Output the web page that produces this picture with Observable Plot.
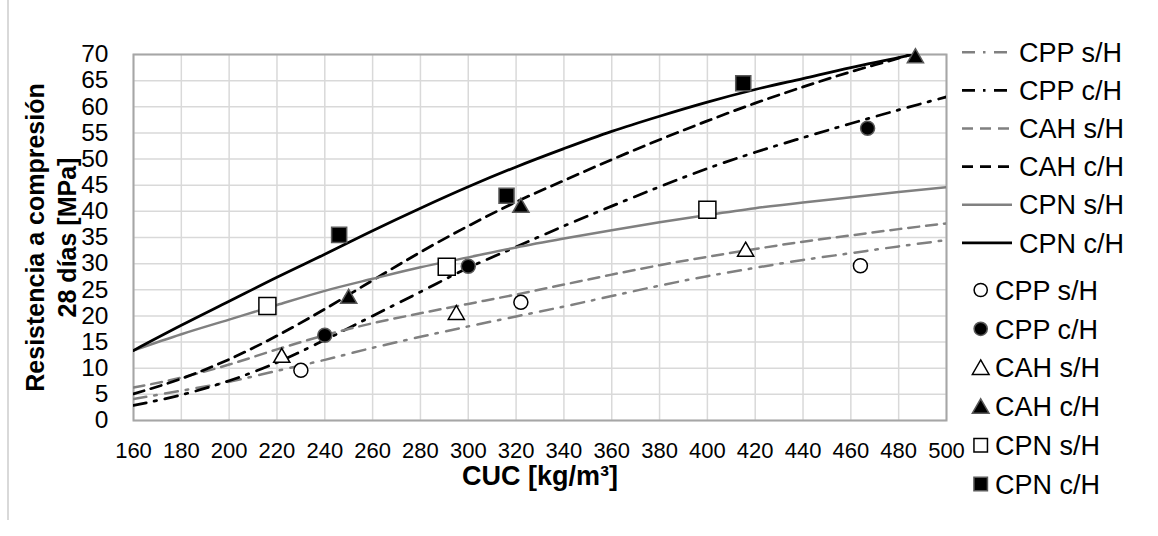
<!DOCTYPE html>
<html><head><meta charset="utf-8">
<script src="https://cdn.jsdelivr.net/npm/d3@7"></script>
<script src="https://cdn.jsdelivr.net/npm/@observablehq/plot@0.6"></script>
<style>
body{margin:0;background:#fff;}
#wrap{position:relative;width:1158px;height:536px;font-family:'Liberation Sans',Arial,sans-serif;}
#border{position:absolute;left:7px;top:0;width:1.5px;height:520px;background:#d9d9d9;}
#legend{position:absolute;left:0;top:0;pointer-events:none;}
</style></head><body>
<div id="wrap"></div>
<script>
// ---------- data ----------
const seriesNames = ["CPP s/H", "CPP c/H", "CAH s/H", "CAH c/H", "CPN s/H", "CPN c/H"];
const cucTicks = [160, 180, 200, 220, 240, 260, 280, 300, 320, 340, 360, 380, 400, 420, 440, 460, 480, 500];
const resTicks = [0, 5, 10, 15, 20, 25, 30, 35, 40, 45, 50, 55, 60, 65, 70];

// trend curves (read at regular CUC steps)
const curveCUC     = [160, 180, 200, 220, 240, 260, 280, 300, 320, 340, 360, 380, 400, 420, 440, 460, 480, 500];
const curveCUCtop  = [160, 180, 200, 220, 240, 260, 280, 300, 320, 340, 360, 380, 400, 420, 440, 460, 480, 486];
const curveCUCtop2 = [160, 180, 200, 220, 240, 260, 280, 300, 320, 340, 360, 380, 400, 420, 440, 460, 480, 485];
const fitCPPsH = [4.1, 5.7, 7.4, 9.5, 11.6, 13.9, 16.0, 18.0, 19.9, 21.8, 23.8, 25.8, 27.6, 29.2, 30.7, 32.0, 33.3, 34.5];
const fitCPPcH = [2.9, 4.9, 7.6, 11.1, 15.4, 20.0, 24.6, 29.2, 33.2, 37.2, 41.0, 44.7, 48.2, 51.3, 54.1, 56.8, 59.4, 61.9];
const fitCAHsH = [6.3, 8.2, 10.7, 13.6, 16.3, 18.6, 20.5, 22.3, 24.1, 26.0, 27.9, 29.7, 31.3, 32.8, 34.2, 35.4, 36.6, 37.7];
const fitCAHcH = [5.1, 8.0, 11.7, 16.2, 21.3, 26.8, 32.2, 37.2, 41.8, 45.9, 49.9, 53.7, 57.3, 60.7, 63.8, 66.7, 69.3, 70.0];
const fitCPNsH = [13.4, 16.5, 19.3, 22.1, 24.8, 27.1, 29.3, 31.2, 33.1, 34.8, 36.4, 37.9, 39.3, 40.6, 41.7, 42.7, 43.7, 44.6];
const fitCPNcH = [13.4, 18.2, 22.8, 27.4, 31.8, 36.3, 40.6, 44.7, 48.5, 52.0, 55.3, 58.2, 60.9, 63.3, 65.4, 67.5, 69.4, 70.0];

// measured points
const ptCUC_CPPsH = [230, 322, 464];  const ptRes_CPPsH = [9.6, 22.6, 29.6];
const ptCUC_CPPcH = [240, 300, 467];  const ptRes_CPPcH = [16.3, 29.5, 55.9];
const ptCUC_CAHsH = [222, 295, 416];  const ptRes_CAHsH = [12.4, 20.6, 32.7];
const ptCUC_CAHcH = [250, 322, 487];  const ptRes_CAHcH = [23.7, 41.1, 69.7];
const ptCUC_CPNsH = [216, 291, 400];  const ptRes_CPNsH = [21.9, 29.4, 40.3];
const ptCUC_CPNcH = [246, 316, 415];  const ptRes_CPNcH = [35.5, 43.0, 64.5];

// ---------- styles ----------
const gray = "#808080";
const dashDot = "13,8,2.5,8.5";
const dash = "11,7";
const lineStyle = {
  "CPP s/H": {stroke: gray, dash: dashDot, w: 2.5},
  "CPP c/H": {stroke: "black", dash: dashDot, w: 2.75},
  "CAH s/H": {stroke: gray, dash: dash, w: 2.5},
  "CAH c/H": {stroke: "black", dash: dash, w: 2.75},
  "CPN s/H": {stroke: gray, dash: null, w: 2.5},
  "CPN c/H": {stroke: "black", dash: null, w: 2.75}
};
const markerStyle = {
  "CPP s/H": {symbol: "circle", r: 7, fill: "white", stroke: "black"},
  "CPP c/H": {symbol: "circle", r: 7, fill: "black", stroke: "#595959"},
  "CAH s/H": {symbol: "triangle", r: 6, fill: "white", stroke: "black"},
  "CAH c/H": {symbol: "triangle", r: 6, fill: "black", stroke: "#595959"},
  "CPN s/H": {symbol: "square", r: 9.6, fill: "white", stroke: "black"},
  "CPN c/H": {symbol: "square", r: 8.5, fill: "black", stroke: "#595959"}
};

// ---------- tables ----------
const fits = [
  ["CPP s/H", curveCUC, fitCPPsH], ["CPP c/H", curveCUC, fitCPPcH],
  ["CAH s/H", curveCUC, fitCAHsH], ["CAH c/H", curveCUCtop2, fitCAHcH],
  ["CPN s/H", curveCUC, fitCPNsH], ["CPN c/H", curveCUCtop, fitCPNcH]
];
const pts = [
  ["CPP s/H", ptCUC_CPPsH, ptRes_CPPsH], ["CPP c/H", ptCUC_CPPcH, ptRes_CPPcH],
  ["CAH s/H", ptCUC_CAHsH, ptRes_CAHsH], ["CAH c/H", ptCUC_CAHcH, ptRes_CAHcH],
  ["CPN s/H", ptCUC_CPNsH, ptRes_CPNsH], ["CPN c/H", ptCUC_CPNcH, ptRes_CPNcH]
];
const toRows = ([name, xs, ys]) => xs.map((x, i) => ({series: name, cuc: x, res: ys[i]}));

const lineMarks = fits.map(f => {
  const s = lineStyle[f[0]];
  return Plot.line(toRows(f), {x: "cuc", y: "res", stroke: s.stroke, strokeWidth: s.w,
    strokeDasharray: s.dash, curve: "monotone-x", clip: true});
});
const dotMarks = pts.map(p => {
  const m = markerStyle[p[0]];
  return Plot.dot(toRows(p), {x: "cuc", y: "res", symbol: m.symbol, r: m.r, fill: m.fill,
    stroke: m.stroke, strokeWidth: 1.5, dy: m.symbol === "triangle" ? 2 : 0});
});

const chart = Plot.plot({
  width: 1158, height: 536,
  marginLeft: 133, marginRight: 212, marginTop: 54, marginBottom: 116,
  style: {fontFamily: "'Liberation Sans', Arial, sans-serif", color: "black", background: "white"},
  x: {domain: [160, 500]},
  y: {domain: [0, 70]},
  marks: [
    Plot.gridX(cucTicks, {stroke: "#d9d9d9", strokeOpacity: 1, strokeWidth: 1.5}),
    Plot.gridY(resTicks, {stroke: "#d9d9d9", strokeOpacity: 1, strokeWidth: 1.5}),
    Plot.frame({stroke: "#a6a6a6", strokeWidth: 2}),
    ...lineMarks,
    ...dotMarks,
    Plot.axisX({ticks: cucTicks, tickSize: 0, tickPadding: 22, fontSize: 22, label: null, tickFormat: d => String(d)}),
    Plot.axisY({ticks: resTicks, tickSize: 0, tickPadding: 25, fontSize: 24.5, label: null, tickFormat: d => String(d)}),
    Plot.text(["Resistencia a compresión\n28 días [MPa]"], {text: d => d, frameAnchor: "left", rotate: -90,
      dx: -84, fontSize: 25, fontWeight: "bold", lineHeight: 1.3, lineAnchor: "middle",
      textAnchor: "middle", fill: "black"}),
    Plot.text(["CUC [kg/m³]"], {text: d => d, frameAnchor: "bottom", dy: 56, fontSize: 27,
      fontWeight: "bold", lineAnchor: "middle", textAnchor: "middle", fill: "black"})
  ]
});

const wrap = document.getElementById("wrap");
wrap.appendChild(chart);
const border = document.createElement("div");
border.id = "border";
wrap.appendChild(border);

// ---------- legend (right side) ----------
const leg = d3.select(wrap).append("svg").attr("id", "legend")
  .attr("width", 1158).attr("height", 536)
  .style("font-family", "'Liberation Sans', Arial, sans-serif");

seriesNames.forEach((name, i) => {
  const s = lineStyle[name];
  const cy = 52.3 + i * 38.1;
  leg.append("line").attr("x1", 962).attr("x2", 1012).attr("y1", cy).attr("y2", cy)
    .attr("stroke", s.stroke).attr("stroke-width", s.w)
    .attr("stroke-dasharray", s.dash);
  leg.append("text").attr("x", 1019).attr("y", cy).attr("dy", "0.36em")
    .attr("font-size", 27).attr("fill", "black").text(name);
});
const symMap = {circle: d3.symbolCircle, triangle: d3.symbolTriangle, square: d3.symbolSquare};
const legSize = {circle: Math.PI * 6.6 * 6.6, triangle: Math.PI * 6.2 * 6.2, square: 13.5 * 13.5};
seriesNames.forEach((name, i) => {
  const m = markerStyle[name];
  const cy = 290 + i * 38.8;
  leg.append("path")
    .attr("d", d3.symbol(symMap[m.symbol], legSize[m.symbol])())
    .attr("transform", `translate(980.7,${cy + (m.symbol === "triangle" ? 2 : 0)})`)
    .attr("fill", m.fill).attr("stroke", m.stroke).attr("stroke-width", 1.5);
  leg.append("text").attr("x", 995).attr("y", cy).attr("dy", "0.36em")
    .attr("font-size", 27).attr("fill", "black").text(name);
});
</script>
</body></html>
